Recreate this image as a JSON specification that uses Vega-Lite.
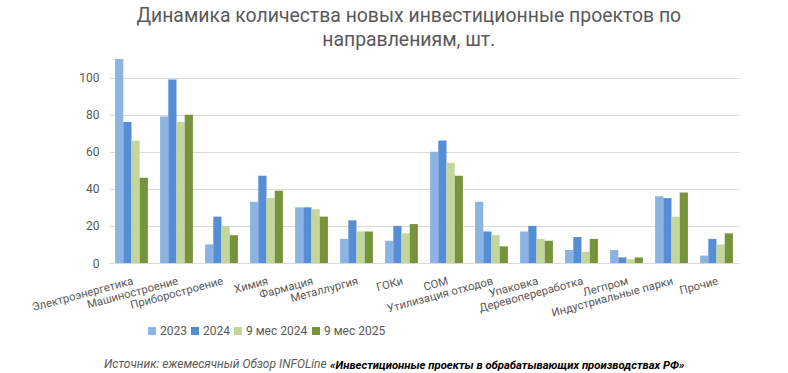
{
  "$schema": "https://vega.github.io/schema/vega-lite/v6.json",
  "padding": {"left": 30, "top": 5, "right": 5, "bottom": 2},
  "background": "white",
  "config": {"view": {"stroke": null}, "font": "Roboto"},
  "title": {
    "text": ["Динамика количества новых инвестиционные проектов по", "направлениям, шт."],
    "fontSize": 19.4, "font": "Roboto", "fontWeight": "normal", "color": "#595959",
    "anchor": "middle", "frame": "bounds", "lineHeight": 24, "offset": 9, "dx": 24
  },
  "vconcat": [
    {
      "width": 630,
      "height": 204,
      "data": {"values": [
        {"cat": "Электроэнергетика", "series": "2023", "value": 110},
        {"cat": "Электроэнергетика", "series": "2024", "value": 76},
        {"cat": "Электроэнергетика", "series": "9 мес 2024", "value": 66},
        {"cat": "Электроэнергетика", "series": "9 мес 2025", "value": 46},
        {"cat": "Машиностроение", "series": "2023", "value": 79},
        {"cat": "Машиностроение", "series": "2024", "value": 99},
        {"cat": "Машиностроение", "series": "9 мес 2024", "value": 76},
        {"cat": "Машиностроение", "series": "9 мес 2025", "value": 80},
        {"cat": "Приборостроение", "series": "2023", "value": 10},
        {"cat": "Приборостроение", "series": "2024", "value": 25},
        {"cat": "Приборостроение", "series": "9 мес 2024", "value": 20},
        {"cat": "Приборостроение", "series": "9 мес 2025", "value": 15},
        {"cat": "Химия", "series": "2023", "value": 33},
        {"cat": "Химия", "series": "2024", "value": 47},
        {"cat": "Химия", "series": "9 мес 2024", "value": 35},
        {"cat": "Химия", "series": "9 мес 2025", "value": 39},
        {"cat": "Фармация", "series": "2023", "value": 30},
        {"cat": "Фармация", "series": "2024", "value": 30},
        {"cat": "Фармация", "series": "9 мес 2024", "value": 29},
        {"cat": "Фармация", "series": "9 мес 2025", "value": 25},
        {"cat": "Металлургия", "series": "2023", "value": 13},
        {"cat": "Металлургия", "series": "2024", "value": 23},
        {"cat": "Металлургия", "series": "9 мес 2024", "value": 17},
        {"cat": "Металлургия", "series": "9 мес 2025", "value": 17},
        {"cat": "ГОКи", "series": "2023", "value": 12},
        {"cat": "ГОКи", "series": "2024", "value": 20},
        {"cat": "ГОКи", "series": "9 мес 2024", "value": 16},
        {"cat": "ГОКи", "series": "9 мес 2025", "value": 21},
        {"cat": "СОМ", "series": "2023", "value": 60},
        {"cat": "СОМ", "series": "2024", "value": 66},
        {"cat": "СОМ", "series": "9 мес 2024", "value": 54},
        {"cat": "СОМ", "series": "9 мес 2025", "value": 47},
        {"cat": "Утилизация отходов", "series": "2023", "value": 33},
        {"cat": "Утилизация отходов", "series": "2024", "value": 17},
        {"cat": "Утилизация отходов", "series": "9 мес 2024", "value": 15},
        {"cat": "Утилизация отходов", "series": "9 мес 2025", "value": 9},
        {"cat": "Упаковка", "series": "2023", "value": 17},
        {"cat": "Упаковка", "series": "2024", "value": 20},
        {"cat": "Упаковка", "series": "9 мес 2024", "value": 13},
        {"cat": "Упаковка", "series": "9 мес 2025", "value": 12},
        {"cat": "Деревопереработка", "series": "2023", "value": 7},
        {"cat": "Деревопереработка", "series": "2024", "value": 14},
        {"cat": "Деревопереработка", "series": "9 мес 2024", "value": 6},
        {"cat": "Деревопереработка", "series": "9 мес 2025", "value": 13},
        {"cat": "Легпром", "series": "2023", "value": 7},
        {"cat": "Легпром", "series": "2024", "value": 3},
        {"cat": "Легпром", "series": "9 мес 2024", "value": 2},
        {"cat": "Легпром", "series": "9 мес 2025", "value": 3},
        {"cat": "Индустриальные парки", "series": "2023", "value": 36},
        {"cat": "Индустриальные парки", "series": "2024", "value": 35},
        {"cat": "Индустриальные парки", "series": "9 мес 2024", "value": 25},
        {"cat": "Индустриальные парки", "series": "9 мес 2025", "value": 38},
        {"cat": "Прочие", "series": "2023", "value": 4},
        {"cat": "Прочие", "series": "2024", "value": 13},
        {"cat": "Прочие", "series": "9 мес 2024", "value": 10},
        {"cat": "Прочие", "series": "9 мес 2025", "value": 16}
      ]},
      "mark": {"type": "bar"},
      "encoding": {
        "x": {
          "field": "cat", "type": "nominal", "sort": null,
          "scale": {"paddingInner": 0.27, "paddingOuter": 0.135},
          "axis": {
            "title": null, "labelAngle": -15, "labelAlign": "right", "labelBaseline": "top",
            "labelFontSize": 11.3, "labelColor": "#595959", "ticks": false, "domainColor": "#d9d9d9",
            "labelPadding": 12, "labelOverlap": false, "labelLimit": 0
          }
        },
        "xOffset": {"field": "series", "type": "nominal", "sort": null, "scale": {"paddingInner": 0, "paddingOuter": 0}},
        "y": {
          "field": "value", "type": "quantitative",
          "scale": {"domain": [0, 110], "nice": false},
          "axis": {
            "title": null, "values": [0, 20, 40, 60, 80, 100], "grid": true, "gridColor": "#d9d9d9",
            "domain": false, "ticks": false, "labelFontSize": 12, "labelColor": "#595959", "labelPadding": 10
          }
        },
        "color": {
          "field": "series", "type": "nominal", "sort": null,
          "scale": {"domain": ["2023", "2024", "9 мес 2024", "9 мес 2025"], "range": ["#8DB3E2", "#558ED5", "#C3D69B", "#77933C"]},
          "legend": {
            "title": null, "orient": "none", "legendX": 37, "legendY": 266, "direction": "horizontal",
            "symbolType": "square", "symbolSize": 64, "labelFontSize": 12, "labelColor": "#595959",
            "labelOffset": 2, "columnPadding": 2
          }
        }
      }
    },
    {
      "spacing": 0,
      "hconcat": [
        {"width": 1, "height": 1, "data": {"values": []}, "mark": "text", "encoding": {},
          "title": {"text": "Источник: ежемесячный Обзор INFOLine", "anchor": "start", "orient": "top", "fontSize": 12, "fontStyle": "italic", "fontWeight": "normal", "color": "#595959", "offset": 0, "frame": "group", "dx": -5}},
        {"width": 1, "height": 1, "data": {"values": []}, "mark": "text", "encoding": {},
          "title": {"text": "«Инвестиционные проекты в обрабатывающих производствах РФ»", "anchor": "start", "orient": "top", "fontSize": 11.3, "fontStyle": "italic", "fontWeight": "bold", "color": "#000000", "offset": 0, "frame": "group", "dx": 3}}
      ]
    }
  ],
  "spacing": 39
}
